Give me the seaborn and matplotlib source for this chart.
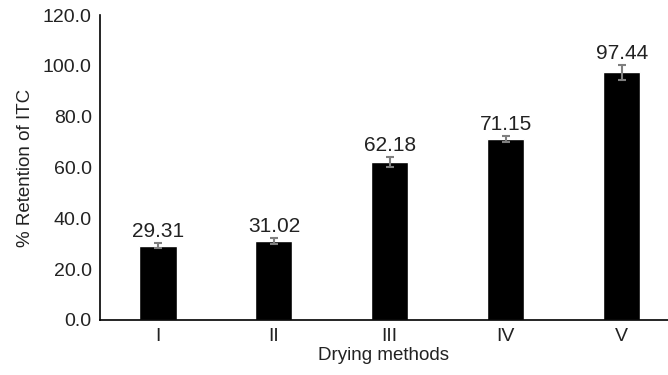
import matplotlib
matplotlib.use("Agg")
import pandas as pd
import seaborn as sns
from matplotlib import pyplot as plt

methods = ["I", "II", "III", "IV", "V"]
retention = [29.31, 31.02, 62.18, 71.15, 97.44]
errors = [1.0, 1.2, 2.0, 1.2, 2.9]

df = pd.DataFrame({"method": methods, "retention": retention})

sns.set_style("white")
plt.rcParams["font.family"] = ["Liberation Sans", "DejaVu Sans"]

fig = plt.figure(figsize=(6.68, 3.75), dpi=100)
ax = fig.add_axes([100 / 668, 1 - 320 / 375, 1 - 100 / 668, 305 / 375])

sns.barplot(data=df, x="method", y="retention", color="black", width=0.32,
            saturation=1, errorbar=None, ax=ax)
ax.errorbar(range(len(methods)), retention, yerr=errors, fmt="none",
            ecolor="#7f7f7f", elinewidth=1.5, capsize=3, capthick=1.5)

for i, v in enumerate(retention):
    ax.text(i, v + errors[i] + 0.8, f"{v:.2f}", ha="center", va="bottom",
            fontsize=15, color="#222222")

ax.set_ylim(0, 120)
ax.set_yticks(range(0, 121, 20))
ax.set_yticklabels([f"{t:.1f}" for t in range(0, 121, 20)])
ax.set_xlim(-0.5, 4.4)
ax.tick_params(axis="both", labelsize=14, colors="#222222", length=0, pad=6)
ax.set_xlabel("Drying methods", fontsize=13.5, color="#222222", labelpad=1)
ax.set_ylabel("% Retention of ITC", fontsize=13.5, color="#222222", labelpad=6)

for side in ["top", "right"]:
    ax.spines[side].set_visible(False)
for side in ["left", "bottom"]:
    ax.spines[side].set_color("black")
    ax.spines[side].set_linewidth(1.2)

fig.savefig("out.png", dpi=100)
